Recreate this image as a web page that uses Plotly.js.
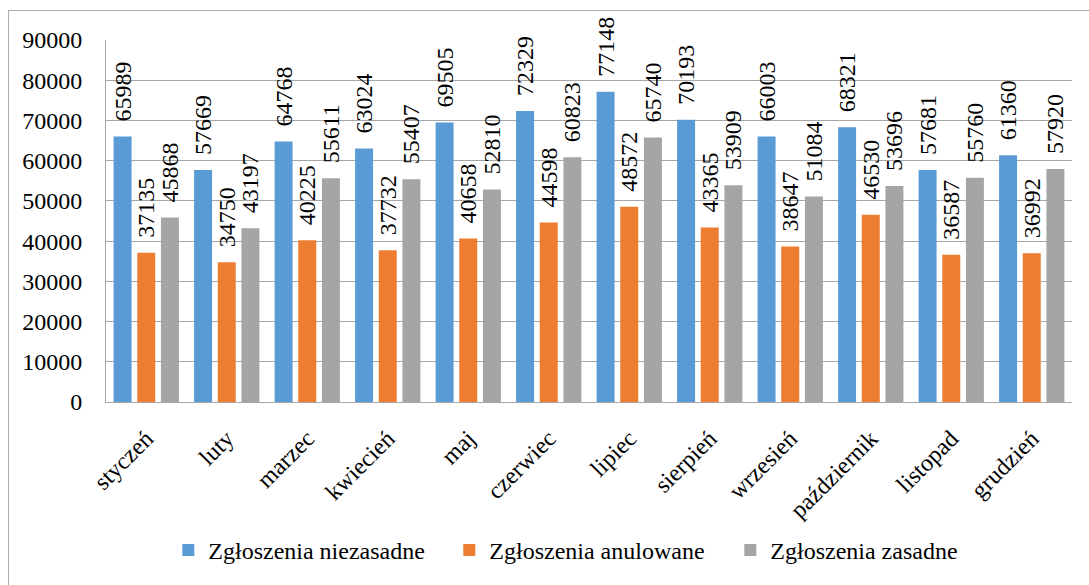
<!DOCTYPE html>
<html>
<head>
<meta charset="utf-8">
<script src="https://cdn.plot.ly/plotly-3.0.1.min.js"></script>
<style>
  html, body { margin: 0; padding: 0; background: #fff; overflow: hidden; }
  #wrap { position: relative; width: 1089px; height: 585px; }
  #frame { position: absolute; left: 8px; top: 10px; width: 1100px; height: 600px; border: 1px solid #ababab; box-sizing: border-box; pointer-events: none; z-index: 2; }
  #chart { position: absolute; left: 0; top: 0; width: 1089px; height: 585px; }
</style>
</head>
<body>
<div id="wrap">
  <div id="chart"></div>
  <div id="frame"></div>
</div>
<script>
const months = ["styczeń","luty","marzec","kwiecień","maj","czerwiec","lipiec","sierpień","wrzesień","październik","listopad","grudzień"];
const niezasadne = [65989,57669,64768,63024,69505,72329,77148,70193,66003,68321,57681,61360];
const anulowane  = [37135,34750,40225,37732,40658,44598,48572,43365,38647,46530,36587,36992];
const zasadne    = [45868,43197,55611,55407,52810,60823,65740,53909,51084,53696,55760,57920];
const seriesNames = ["Zgłoszenia niezasadne","Zgłoszenia anulowane","Zgłoszenia zasadne"];
const colors = ["#5B9BD5","#ED7D31","#A5A5A5"];
const yTicks = [0,10000,20000,30000,40000,50000,60000,70000,80000,90000];

const FONT = "Liberation Serif";
const pad = "\u00a0\u00a0";

const data = [niezasadne, anulowane, zasadne].map((vals, i) => ({
  type: "bar",
  name: seriesNames[i],
  x: months,
  y: vals,
  marker: { color: colors[i], line: { width: 0 } },
  text: vals.map(v => pad + String(v)),
  texttemplate: "%{text}",
  textposition: "outside",
  textangle: -90,
  constraintext: "none",
  cliponaxis: false,
  textfont: { family: FONT, size: 24, color: "#000" },
  hoverinfo: "x+y+name"
}));

const layout = {
  width: 1089,
  height: 585,
  margin: { l: 106, r: 17, t: 40, b: 181 },
  paper_bgcolor: "rgba(0,0,0,0)",
  plot_bgcolor: "#fff",
  font: { family: FONT, size: 24, color: "#000" },
  barmode: "group",
  bargap: 0.118,
  bargroupgap: 0.24,
  showlegend: true,
  legend: {
    orientation: "h",
    x: 0.0645, xanchor: "left",
    y: -0.41, yanchor: "middle",
    entrywidth: 236,
    font: { family: FONT, size: 24, color: "#000" },
    traceorder: "normal"
  },
  xaxis: {
    type: "category",
    tickangle: -45,
    showline: true,
    linecolor: "#a6a6a6",
    linewidth: 1,
    showgrid: false,
    ticks: "",
    tickfont: { family: FONT, size: 24, color: "#000" },
    ticklabelstandoff: 12
  },
  yaxis: {
    range: [0, 90000],
    tickvals: yTicks,
    ticktext: yTicks.map(String),
    showline: true,
    linecolor: "#a6a6a6",
    linewidth: 1,
    showgrid: true,
    gridcolor: "#a6a6a6",
    gridwidth: 1,
    zeroline: false,
    ticks: "",
    tickfont: { family: FONT, size: 24, color: "#000" },
    ticklabelstandoff: 18
  }
};

Plotly.newPlot("chart", data, layout, { displayModeBar: false });
</script>
</body>
</html>
